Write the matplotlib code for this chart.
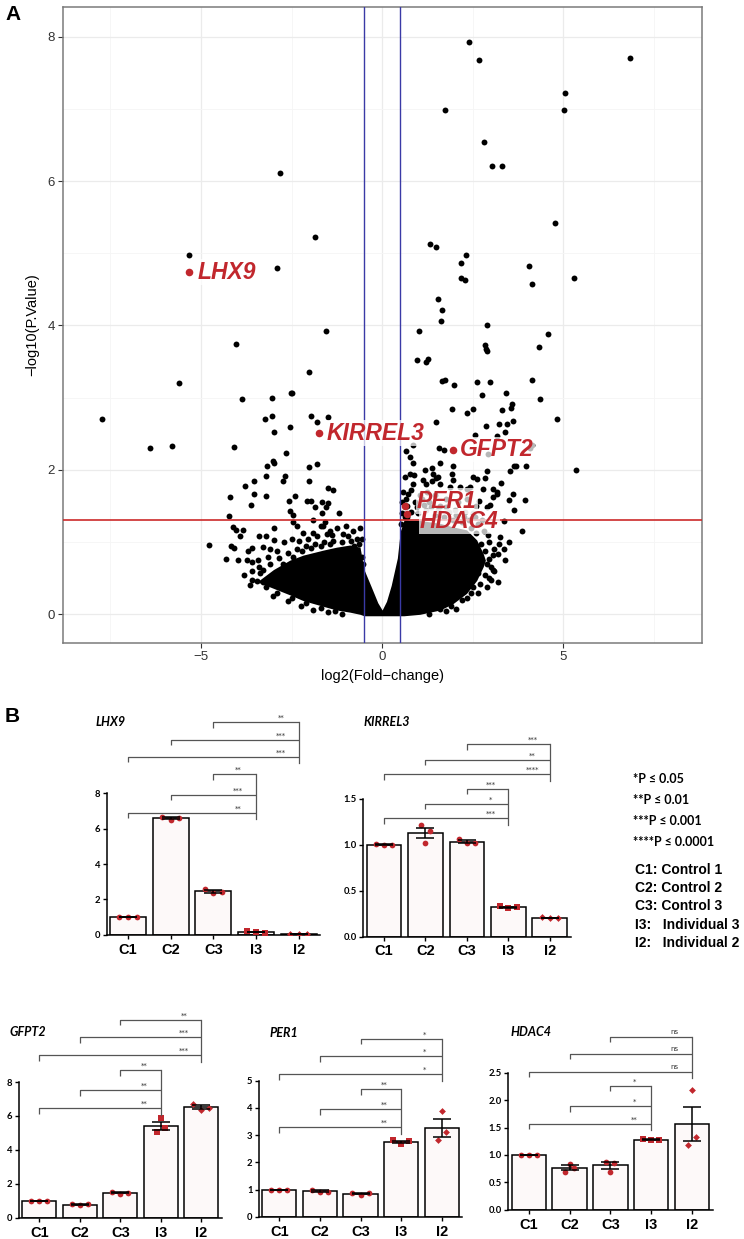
import numpy as np
import matplotlib
matplotlib.use('Agg')
import matplotlib.pyplot as plt
from matplotlib.ticker import FixedLocator

W, H = 744, 1239
RED = '#c1272d'

# ---------------- Volcano data (panel A) ----------------
vol_x = [2.41, 2.66, 6.85, 5.05, 1.73, 5.01, 2.80, 3.02, 3.31, -2.82, 4.76, -1.84, 1.31, 1.48,
         -5.33, 2.32, -2.89, 2.19, 4.04, 2.19, 2.28, 4.13, 5.30, 1.55, 1.65, 1.63, 2.90, -1.56,
         1.01, 4.58, -4.04, 2.83, 2.86, 2.90, 4.33, 0.96, 1.22, 1.27, -2.01, -5.60, 1.65, 1.74,
         1.98, 2.62, 2.99, 4.15, -2.51, 2.77, 3.43, -3.88, -3.04, -2.48, 4.36, 3.58, 3.57, 1.94,
         2.51, 2.34, 3.30, -7.72, -3.22, -3.04, -1.95, -1.81, -1.50, 1.50, 4.84, 3.62, 2.87, 3.23,
         3.44, -2.55, -2.99, 3.40, 2.56, 3.16, 0.84, 1.56, 1.71, 0.66, -6.41, -5.80, -4.08, -2.66,
         4.13, 4.08, 0.77, 0.86, 2.91, 1.60, 1.95, 3.64, 3.70, 3.97, 5.34, -3.19, -3.02, -2.98,
         -2.01, -1.81,
         1.18, 1.37, 0.77, 0.88, 1.93, 2.90, 3.54, 1.41, 1.48, 1.53, 2.52, 2.63, 2.84, 0.86, 0.81,
         1.14, 1.21, 1.37, 1.60, 1.87, 1.96, 2.15, 2.33, 2.42, 3.29, 2.79, 3.07, 3.16, 2.68, 2.90,
         2.98, 3.07, 3.18, 3.49, 3.62, 3.94, 3.64, 3.36, 3.85, 0.71, 0.66, 2.93, 3.23, 3.25, 3.21,
         2.96, 3.07, 2.96, 2.65, 2.52,
         -3.20, -2.68, -2.75, -3.53, -3.79, -2.01, -1.50, -1.36, -4.19, -3.53, -3.20, -3.62, -2.57,
         -2.40, -2.55, -2.45, -2.07, -1.95, -1.84, -1.65, -1.50, -1.55, -1.20, -1.65, -4.23, -1.90,
         -1.58, -1.69, -1.63, -2.45, -2.36, -2.98, -4.12, -4.02, -3.85, -3.91, -3.39, -3.21, -4.78,
         -2.99, -2.18, -1.90, -1.38, -1.53, -1.07, -0.93, -0.78, -4.17, -4.08, -4.30, -3.97, -3.71,
         -3.58, -3.74, -3.58, -3.43, -3.28, -3.09, -3.59, -3.45, -3.28, -3.37,
         -3.30, -3.10, -2.85, -2.60, -2.35, -2.10, -1.85, -1.60, -1.35, -1.10, -0.85, -0.65, -0.55,
         -0.52, -3.20, -2.90, -2.50, -2.10, -1.70, -1.30,
         -3.40, -3.15, -2.90, -2.70, -2.50, -2.30, -2.05, -1.80, -1.45, -1.25, -1.00, -0.80, -0.70,
         -0.60, -0.55, -2.75, -2.45, -2.20, -1.95, -1.70, -1.45, -3.60, -3.80, -3.65, -3.00, -2.60,
         -2.25, -1.90, -1.50, -1.10,
         0.52, 0.55, 0.62, 0.80, 1.00, 1.20, 1.45, 1.70, 1.95, 2.20, 2.45, 2.60, 2.72, 2.85, 2.90,
         2.85, 2.70, 2.45, 2.20, 1.90, 1.60, 3.00, 3.10, 2.75, 2.50, 0.70, 0.90, 1.10, 1.30, 1.60,
         2.00, 2.30, 2.55,
         0.55, 0.58, 0.62, 0.70, 0.95, 1.15, 1.35, 1.55, 1.75, 1.85, 2.05, 2.25, 2.40, 2.65, 2.80,
         2.95, 3.05, 3.10, 3.00, 2.90, 2.65, 2.35, 2.05, 1.75, 1.30, 3.35, 3.40, 3.20, 3.50, 1.05,
         1.25, 1.45, 1.75, 2.10, 2.35, 2.60]
vol_y = [7.93, 7.67, 7.70, 7.22, 6.99, 6.99, 6.54, 6.21, 6.21, 6.11, 5.42, 5.22, 5.13, 5.09,
         4.97, 4.97, 4.79, 4.86, 4.83, 4.66, 4.63, 4.58, 4.66, 4.37, 4.21, 4.06, 4.01, 3.93,
         3.93, 3.88, 3.75, 3.73, 3.67, 3.64, 3.70, 3.52, 3.50, 3.54, 3.35, 3.20, 3.23, 3.25,
         3.17, 3.22, 3.22, 3.24, 3.07, 3.04, 3.06, 2.98, 3.00, 3.06, 2.98, 2.91, 2.86, 2.84,
         2.84, 2.79, 2.83, 2.71, 2.70, 2.74, 2.74, 2.66, 2.73, 2.66, 2.70, 2.68, 2.61, 2.64,
         2.63, 2.59, 2.52, 2.53, 2.49, 2.47, 2.35, 2.31, 2.28, 2.26, 2.31, 2.33, 2.32, 2.24,
         2.35, 2.31, 2.18, 2.09, 2.22, 2.10, 2.06, 2.06, 2.05, 2.06, 2.00, 2.06, 2.13, 2.09,
         2.04, 2.08,
         2.00, 2.02, 1.95, 1.93, 1.95, 1.99, 1.99, 1.94, 1.89, 1.90, 1.90, 1.88, 1.89, 1.81, 1.72,
         1.86, 1.81, 1.84, 1.81, 1.77, 1.86, 1.77, 1.74, 1.77, 1.82, 1.73, 1.74, 1.69, 1.57, 1.49,
         1.52, 1.63, 1.66, 1.58, 1.67, 1.58, 1.44, 1.29, 1.16, 1.67, 1.60, 1.10, 0.98, 1.07, 0.84,
         0.76, 0.61, 0.50, 0.57, 0.38,
         1.92, 1.92, 1.85, 1.84, 1.78, 1.84, 1.75, 1.72, 1.63, 1.66, 1.64, 1.51, 1.57,
         1.64, 1.43, 1.37, 1.57, 1.57, 1.49, 1.55, 1.54, 1.48, 1.40, 1.41, 1.36, 1.31,
         1.28, 1.23, 1.23, 1.28, 1.23, 1.20, 1.21, 1.17, 1.17, 1.08, 1.09, 1.09, 0.96,
         1.03, 1.13, 1.13, 1.10, 1.11, 1.11, 1.09, 0.95, 0.94, 0.92, 0.76, 0.75, 0.88,
         0.92, 0.75, 0.73, 0.75, 0.93, 0.90, 0.48, 0.46, 0.45, 0.57,
         0.62, 0.70, 0.78, 0.85, 0.90, 0.95, 0.98, 1.00, 1.02, 1.00, 1.02, 0.98, 0.80,
         0.70, 0.38, 0.30, 0.22, 0.15, 0.09, 0.05,
         0.66, 0.80, 0.88, 1.00, 1.05, 1.02, 1.05, 1.08, 1.15, 1.20, 1.22, 1.15, 1.05,
         1.20, 1.05, 0.70, 0.80, 0.88, 0.92, 0.95, 0.97, 0.60, 0.55, 0.40, 0.25, 0.18,
         0.12, 0.06, 0.03, 0.00,
         1.25, 1.40, 1.35, 1.42, 1.40, 1.45, 1.38, 1.35, 1.30, 1.28, 1.20, 1.12, 0.98, 0.88, 0.70,
         0.55, 0.42, 0.30, 0.20, 0.12, 0.07, 0.65, 0.90, 1.30, 1.40, 1.50, 1.55, 1.60, 1.55, 1.50,
         1.45, 1.42, 1.35,
         1.55, 1.70, 1.90, 1.35, 1.48, 1.52, 1.48, 1.45, 1.48, 1.42, 1.38, 1.35, 1.30, 1.25, 1.15,
         1.00, 0.82, 0.60, 0.48, 0.38, 0.30, 0.22, 0.08, 0.04, 0.01, 0.90, 0.75, 0.45, 1.00, 1.65,
         1.70, 1.65, 1.60, 1.55, 1.60, 1.50]

# dense core of the volcano (outline of the solid black mass)
cloud_x = [-3.45, -3.0, -2.55, -2.18, -1.62, -1.26, -0.89, -0.61, -0.50, -0.30, -0.12, 0.0,
           0.12, 0.25, 0.42, 0.50, 0.60, 1.04, 1.60, 1.96, 2.33, 2.61, 2.79, 2.85]
cloud_hi = [0.45, 0.62, 0.75, 0.82, 0.89, 0.93, 0.96, 0.93, 0.62, 0.38, 0.16, 0.06,
            0.18, 0.40, 0.78, 1.15, 1.30, 1.30, 1.26, 1.21, 1.17, 1.03, 0.84, 0.75]
cloud_lo = [0.45, 0.36, 0.27, 0.19, 0.11, 0.06, 0.03, 0.0, -0.02, -0.02, -0.02, -0.02,
            -0.02, -0.02, -0.02, -0.02, -0.02, 0.0, 0.06, 0.15, 0.29, 0.47, 0.66, 0.75]

gene_names = ['LHX9', 'KIRREL3', 'GFPT2', 'PER1', 'HDAC4']
gene_x = [-5.33, -1.74, 1.96, 0.63, 0.69]
gene_y = [4.74, 2.51, 2.28, 1.50, 1.39]
fc_cut = 0.5
p_cut = 0.05

# ---------------- qPCR data (panel B) ----------------
groups = ['C1', 'C2', 'C3', 'I3', 'I2']
lhx9_vals = [[1.0, 1.0, 1.0], [6.67, 6.49, 6.60], [2.59, 2.34, 2.43], [0.20, 0.15, 0.12], [0.06, 0.05, 0.05]]
kirrel3_vals = [[1.01, 1.0, 1.0], [1.216, 1.15, 1.02], [1.063, 1.02, 1.023], [0.33, 0.31, 0.32], [0.21, 0.20, 0.20]]
gfpt2_vals = [[1.0, 1.0, 1.0], [0.79, 0.76, 0.78], [1.53, 1.42, 1.45], [5.86, 5.05, 5.29], [6.73, 6.33, 6.49]]
per1_vals = [[1.0, 1.0, 1.0], [1.00, 0.92, 0.92], [0.88, 0.81, 0.87], [2.82, 2.68, 2.78], [3.89, 3.10, 2.81]]
hdac4_vals = [[1.0, 1.0, 1.0], [0.84, 0.69, 0.76], [0.87, 0.86, 0.69], [1.29, 1.27, 1.28], [2.19, 1.33, 1.185]]

# significance: comparisons C3, C2, C1 vs I2 (upper) and vs I3 (lower)
lhx9_sig_i2 = ['**', '***', '***']
lhx9_sig_i3 = ['**', '***', '**']
kirrel3_sig_i2 = ['***', '**', '****']
kirrel3_sig_i3 = ['***', '*', '***']
gfpt2_sig_i2 = ['**', '***', '***']
gfpt2_sig_i3 = ['**', '**', '**']
per1_sig_i2 = ['*', '*', '*']
per1_sig_i3 = ['**', '**', '**']
hdac4_sig_i2 = ['ns', 'ns', 'ns']
hdac4_sig_i3 = ['*', '*', '**']

fig = plt.figure(figsize=(W / 100, H / 100), dpi=100)


def px_axes(l, r, b, t):
    return fig.add_axes([l / W, 1 - b / H, (r - l) / W, (b - t) / H])


# ================= Panel A =================
ax = px_axes(63.3, 701.7, 642.7, 6.7)
ax.set_xlim(-8.8, 8.82)
ax.set_ylim(-0.393, 8.415)
ax.xaxis.set_major_locator(FixedLocator([-5, 0, 5]))
ax.xaxis.set_minor_locator(FixedLocator([-7.5, -2.5, 2.5, 7.5]))
ax.yaxis.set_major_locator(FixedLocator([0, 2, 4, 6, 8]))
ax.yaxis.set_minor_locator(FixedLocator([1, 3, 5, 7]))
ax.grid(which='major', color='#ebebeb', lw=0.9, zorder=0)
ax.grid(which='minor', color='#f5f5f5', lw=0.6, zorder=0)
ax.set_axisbelow(True)
for s in ax.spines.values():
    s.set_color('#7a7a7a')
    s.set_linewidth(1.1)
ax.tick_params(which='major', length=3.6, width=0.8, color='#333333', labelsize=9.5,
               labelcolor='#333333', pad=2.5)
ax.tick_params(which='minor', length=0)
for lab in ax.get_xticklabels() + ax.get_yticklabels():
    lab.set_family(['Liberation Sans', 'DejaVu Sans'])

ax.fill_between(cloud_x, cloud_lo, cloud_hi, color='black', lw=0, zorder=2)
ax.scatter(vol_x, vol_y, s=18, color='black', lw=0, zorder=3)
ax.axvline(-fc_cut, color='#3a3aa6', lw=1.0, zorder=4)
ax.axvline(fc_cut, color='#3a3aa6', lw=1.0, zorder=4)
ax.axhline(-np.log10(p_cut), color='#cc2a2a', lw=1.2, zorder=4)

ax.scatter(gene_x, gene_y, s=30, color=RED, lw=0, zorder=6)
label_offsets = [(6.2, 0), (5.5, 0), (4.8, 0), (8.6, 3.6), (9.1, -5.4)]
for name, gx, gy, off in zip(gene_names, gene_x, gene_y, label_offsets):
    ax.annotate(name, xy=(gx, gy), xytext=off, textcoords='offset points',
                ha='left', va='center', fontsize=16.5, fontweight='bold', fontstyle='italic',
                color=RED, family=['Liberation Sans', 'DejaVu Sans'], zorder=7,
                bbox=dict(boxstyle='square,pad=0.05', fc='white', ec='none', alpha=0.72))

fig.text(382 / W, 1 - 676 / H, 'log2(Fold\u2212change)', ha='center', va='center',
         fontsize=10.5, family=['Liberation Sans', 'DejaVu Sans'])
fig.text(32 / W, 1 - 325 / H, '\u2212log10(P.Value)', ha='center', va='center',
         rotation=90, fontsize=10.5, family=['Liberation Sans', 'DejaVu Sans'])
fig.text(5 / W, 1 - 14 / H, 'A', ha='left', va='center', fontsize=15, fontweight='bold',
         family=['Liberation Sans', 'DejaVu Sans'])
fig.text(5 / W, 1 - 717 / H, 'B', ha='left', va='center', fontsize=15, fontweight='bold',
         family=['Liberation Sans', 'DejaVu Sans'])

# ================= Panel B =================
markers = ['o', 'o', 'o', 's', 'D']
msizes = [17, 17, 17, 17, 12]
default_offs = [[-0.2, 0, 0.2]] * 5


def bar_panel(rect, vals, ytop, ystep, fmt, title, title_px, sig_i2, sig_i3, h_i2, h_i3,
              offs=None):
    ax = px_axes(*rect)
    offs = offs or default_offs
    x = np.arange(5)
    means = [np.mean(v) for v in vals]
    sems = [np.std(v, ddof=1) / np.sqrt(len(v)) for v in vals]
    ax.bar(x, means, width=0.84, color='#fdf9f9', edgecolor='black', lw=1.1, zorder=2)
    for i, v in enumerate(vals):
        ax.scatter(i + np.array(offs[i]), v, marker=markers[i], s=msizes[i], color=RED,
                   lw=0, zorder=3)
    ax.errorbar(x, means, yerr=sems, fmt='none', ecolor='black', elinewidth=1.1,
                capsize=6.3, capthick=1.1, zorder=4)
    ax.set_xlim(-0.5, 4.5)
    ax.set_ylim(0, ytop)
    ax.spines['top'].set_visible(False)
    ax.spines['right'].set_visible(False)
    for s in ('left', 'bottom'):
        ax.spines[s].set_linewidth(1.1)
    ax.spines['left'].set_bounds(0, ytop)
    yt = np.arange(0, ytop + 1e-9, ystep)
    ax.set_yticks(yt)
    ax.set_yticklabels([fmt.format(t) for t in yt], fontsize=6.8, fontweight='bold',
                       family=['Lato', 'DejaVu Sans'])
    ax.set_xticks(x)
    ax.set_xticklabels(groups, fontsize=10.5, fontweight='bold',
                       family=['Liberation Sans', 'DejaVu Sans'])
    ax.tick_params(axis='both', length=3.2, width=1.0, pad=1.5)
    ax.tick_params(axis='x', pad=2.5)

    # brackets
    ax_h_px = ax.get_position().height * H
    upp = ytop / ax_h_px  # data units per pixel
    drop = 5.5 * upp
    for right, sigs, hs in ((4, sig_i2, h_i2), (3, sig_i3, h_i3)):
        for left, s, h in zip((2, 1, 0), sigs, hs):
            ax.plot([left, left, right], [h - drop, h, h], color='#555555', lw=0.9,
                    clip_on=False, zorder=5, solid_capstyle='butt')
            ax.text(right - 0.42, h + 1.2 * upp, s, ha='center', va='bottom', fontsize=5,
                    color='#333333', family=['DejaVu Sans'], clip_on=False)
        ax.plot([right, right], [max(hs), min(hs) - 1.2 * drop], color='#555555', lw=0.9,
                clip_on=False, zorder=5)
    fig.text(title_px[0] / W, 1 - title_px[1] / H, title, ha='left', va='center',
             fontsize=9, fontweight='bold', fontstyle='italic', family=['Lato', 'DejaVu Sans'])
    return ax


bar_panel((106.7, 320, 934.7, 793.3), lhx9_vals, 8, 2, '{:.0f}', 'LHX9', (96, 722),
          lhx9_sig_i2, lhx9_sig_i3, [12.02, 11.04, 10.06], [9.08, 7.91, 6.90])
bar_panel((363.3, 570.6, 936.5, 799), kirrel3_vals, 1.5, 0.5, '{:.1f}', 'KIRREL3', (364, 722),
          kirrel3_sig_i2, kirrel3_sig_i3, [2.10, 1.93, 1.77], [1.61, 1.45, 1.29],
          offs=[[-0.2, 0, 0.2], [-0.1, 0.1, 0], [-0.2, 0, 0.2], [-0.2, 0, 0.2], [-0.2, 0, 0.2]])
bar_panel((19, 221.5, 1217.7, 1082), gfpt2_vals, 8, 2, '{:.0f}', 'GFPT2', (10, 1031.7),
          gfpt2_sig_i2, gfpt2_sig_i3, [11.66, 10.63, 9.59], [8.69, 7.51, 6.45],
          offs=[[-0.2, 0, 0.2], [-0.2, 0, 0.2], [-0.2, 0, 0.2], [0, -0.1, 0.1], [-0.2, 0, 0.2]])
bar_panel((259, 462, 1217, 1080.7), per1_vals, 5, 1, '{:.0f}', 'PER1', (270, 1032.7),
          per1_sig_i2, per1_sig_i3, [6.53, 5.89, 5.24], [4.68, 3.95, 3.29],
          offs=[[-0.2, 0, 0.2], [-0.2, 0, 0.2], [-0.2, 0, 0.2], [-0.2, 0, 0.2], [0, 0.11, -0.09]])
bar_panel((508.3, 712.5, 1209.7, 1072.7), hdac4_vals, 2.5, 0.5, '{:.1f}', 'HDAC4', (511, 1031.7),
          hdac4_sig_i2, hdac4_sig_i3, [3.16, 2.85, 2.52], [2.26, 1.89, 1.57],
          offs=[[-0.2, 0, 0.2], [0, -0.1, 0.1], [-0.1, 0.1, 0], [-0.2, 0, 0.2], [0, 0.1, -0.1]])

# legend texts
p_lines = ['*P \u2264 0.05', '**P \u2264 0.01', '***P \u2264 0.001', '****P \u2264 0.0001']
for t, yy in zip(p_lines, [779.3, 800, 821, 841.7]):
    fig.text(632.7 / W, 1 - yy / H, t, ha='left', va='center', fontsize=9, fontweight='bold',
             family=['Lato', 'DejaVu Sans'])
g_lines = ['C1: Control 1', 'C2: Control 2', 'C3: Control 3', 'I3:   Individual 3', 'I2:   Individual 2']
for t, yy in zip(g_lines, [870, 888, 906, 924.7, 942.7]):
    fig.text(635 / W, 1 - yy / H, t, ha='left', va='center', fontsize=10, fontweight='bold',
             family=['Liberation Sans', 'DejaVu Sans'])

fig.savefig('out.png', dpi=100)
